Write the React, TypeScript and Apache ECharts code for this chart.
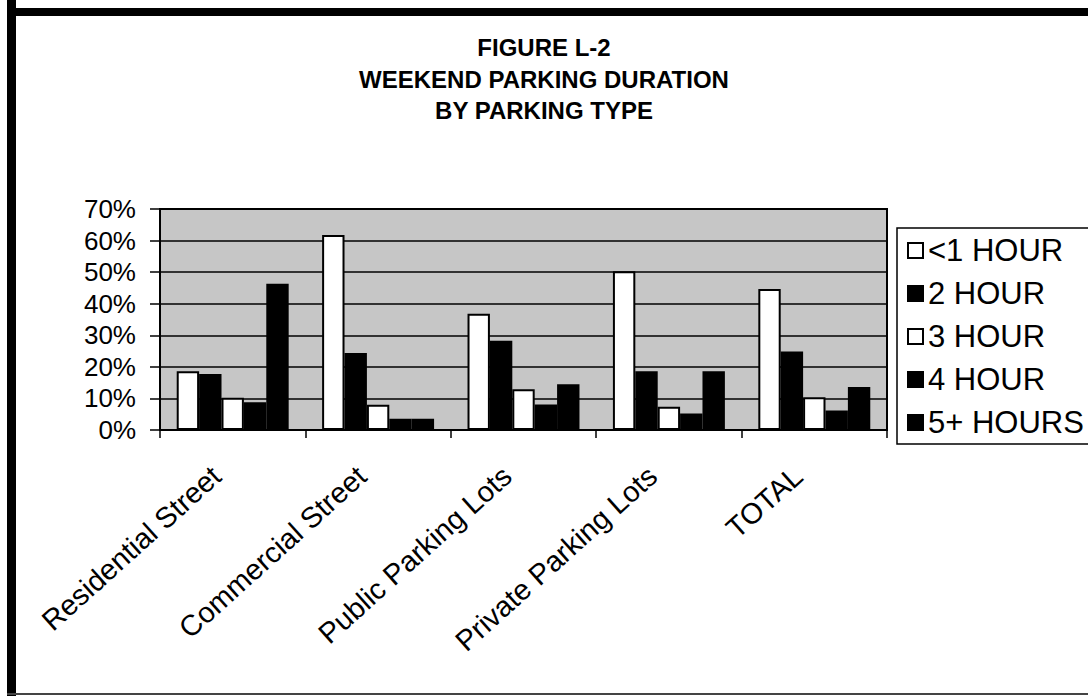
import React, { useEffect, useRef } from "react";
import * as echarts from "echarts";

const categories = [
  "Residential Street",
  "Commercial Street",
  "Public Parking Lots",
  "Private Parking Lots",
  "TOTAL",
];
const seriesNames = ["<1 HOUR", "2 HOUR", "3 HOUR", "4 HOUR", "5+ HOURS"];
const lessThan1Hour = [18.6, 61.8, 36.8, 50.3, 44.7];
const twoHour = [17.7, 24.4, 28.3, 18.6, 24.9];
const threeHour = [10.2, 8.0, 12.9, 7.4, 10.4];
const fourHour = [8.8, 3.6, 8.1, 5.2, 6.2];
const fivePlusHours = [46.3, 3.6, 14.5, 18.6, 13.6];
const seriesValues = [lessThan1Hour, twoHour, threeHour, fourHour, fivePlusHours];
const seriesFills = ["#ffffff", "#000000", "#ffffff", "#000000", "#000000"];
const yTicks = [0, 10, 20, 30, 40, 50, 60, 70];

const FONT = "'Liberation Sans', Arial, Helvetica, sans-serif";

export default function App() {
  const ref = useRef<HTMLDivElement>(null);
  useEffect(() => {
    if (!ref.current) return;
    const chart = echarts.init(ref.current, null, { renderer: "svg" });
    chart.setOption({
      animation: false,
      backgroundColor: "#ffffff",
      title: {
        text: "FIGURE L-2\nWEEKEND PARKING DURATION\nBY PARKING TYPE",
        left: "center",
        top: 32,
        padding: 0,
        textStyle: {
          fontFamily: FONT,
          fontWeight: "bold",
          fontSize: 24,
          lineHeight: 31.5,
          color: "#000",
        },
      },
      legend: {
        orient: "vertical",
        left: 897,
        top: 228,
        padding: [7, 40, 6, 10],
        itemGap: 12,
        itemWidth: 15,
        itemHeight: 15,
        borderColor: "#000",
        borderWidth: 1.5,
        icon: "rect",
        data: seriesNames,
        textStyle: {
          fontFamily: FONT,
          fontSize: 31,
          lineHeight: 30,
          color: "#000",
        },
      },
      grid: {
        show: true,
        left: 160,
        right: 201,
        top: 209,
        bottom: 266,
        backgroundColor: "#c6c6c6",
        borderColor: "#000",
        borderWidth: 2,
      },
      xAxis: {
        type: "category",
        data: categories,
        axisLine: { show: true, lineStyle: { color: "#000", width: 2 } },
        axisTick: { show: true, length: 8, lineStyle: { color: "#000", width: 1.5 } },
        axisLabel: {
          rotate: 42,
          interval: 0,
          margin: 27,
          padding: [0, 22, 0, 0],
          fontFamily: FONT,
          fontSize: 29,
          color: "#000",
        },
      },
      yAxis: {
        type: "value",
        min: 0,
        max: 70,
        interval: 10,
        axisLine: { show: true, lineStyle: { color: "#000", width: 2 } },
        axisTick: { show: true, length: 10, lineStyle: { color: "#000", width: 1.5 } },
        splitLine: { show: true, lineStyle: { color: "#000", width: 1.5 } },
        axisLabel: {
          margin: 24,
          fontFamily: FONT,
          fontSize: 26,
          color: "#000",
          formatter: (v: number) => (yTicks.includes(v) ? v + "%" : ""),
        },
      },
      series: seriesNames.map((name, i) => ({
        name,
        type: "bar",
        data: seriesValues[i],
        barGap: "0%",
        barCategoryGap: "23%",
        itemStyle: {
          color: seriesFills[i],
          borderColor: "#000",
          borderWidth: 2,
        },
      })),
      graphic: [
        { type: "rect", shape: { x: 7, y: 0, width: 9, height: 696 }, style: { fill: "#000" } },
        { type: "rect", shape: { x: 7, y: 8, width: 1081, height: 8 }, style: { fill: "#000" } },
        { type: "rect", shape: { x: 7, y: 693, width: 1081, height: 2 }, style: { fill: "#444" } },
      ],
    });
    return () => chart.dispose();
  }, []);
  return (
    <div
      ref={ref}
      style={{ position: "absolute", left: 0, top: 0, width: 1088, height: 696 }}
    />
  );
}
